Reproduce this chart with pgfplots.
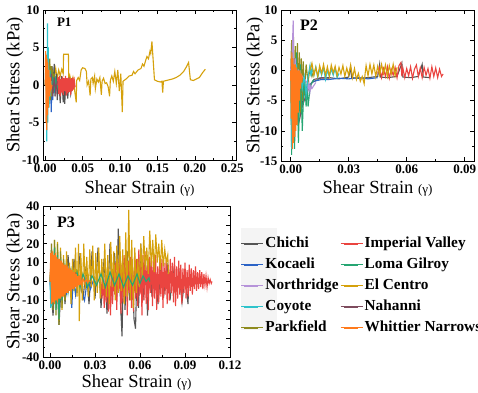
\documentclass[border=0pt]{standalone}
\usepackage{pgfplots}
\pgfplotsset{compat=1.18}
\usepackage{fontspec}
\setmainfont{Liberation Serif}
\definecolor{cChichi}{HTML}{555555}
\definecolor{cKoc}{HTML}{2B63C6}
\definecolor{cNorth}{HTML}{B693D9}
\definecolor{cCoy}{HTML}{2EC3CB}
\definecolor{cPark}{HTML}{8E8B1E}
\definecolor{cImp}{HTML}{EA4440}
\definecolor{cLoma}{HTML}{26A673}
\definecolor{cElC}{HTML}{D5A10C}
\definecolor{cNah}{HTML}{7E4C5E}
\definecolor{cWhit}{HTML}{FF7A1C}
\pgfplotsset{
  panel/.style={
    scale only axis, anchor=south west,
    axis line style={line width=0.8pt},
    tick style={black, line width=0.6pt},
    major tick length=4pt, minor tick length=2pt, tick align=inside,
    minor tick num=1,
    scaled x ticks=false, scaled y ticks=false,
    /pgf/number format/assume math mode=true,
    tick label style={font=\fontsize{13}{13}\selectfont\bfseries},
    xticklabel style={/pgf/number format/fixed, /pgf/number format/fixed zerofill, /pgf/number format/precision=2},
    label style={font=\fontsize{18.5}{20}\selectfont},
    ylabel={Shear Stress (kPa)},
    xlabel={Shear Strain {\fontsize{13}{13}\selectfont(γ)}},
    every axis plot/.append style={line width=1.1pt, forget plot},
    clip=true,
  }
}
\begin{document}
\begin{tikzpicture}
\path[use as bounding box] (0,0) rectangle (478pt,392pt);
\fill[gray!9] (241pt,62pt) rectangle (277pt,164pt);
%================ P1 ================
\begin{axis}[panel, at={(43pt,232pt)}, width=193pt, height=150pt,
  xmin=-0.003, xmax=0.255, ymin=-10, ymax=10,
  xtick={0,0.05,0.1,0.15,0.2,0.25}, ytick={-10,-5,0,5,10},
  ylabel style={at={(axis description cs:-0.145,0.5)}, anchor=center},
  xlabel style={at={(axis description cs:0.5,-0.187)}, anchor=center}]
\addplot[cElC] coordinates {(0,0) (0.002,3.5) (0.004,-2) (0.006,2.8) (0.008,0.5) (0.010,2.0) (0.012,1.0) (0.014,2.2) (0.016,0.8) (0.018,2.0) (0.020,1.2) (0.022,2.1) (0.024,1.5) (0.0245,4.1) (0.031,4.1) (0.0315,0.6) (0.033,1.2) (0.035,0.2) (0.037,1.0) (0.039,-0.5) (0.0414,-2.3) (0.042,0.6) (0.044,1.0) (0.046,0.6) (0.048,2.0) (0.050,2.3) (0.053,2.2) (0.055,1.8) (0.056,0) (0.058,0.5) (0.060,-1.4) (0.061,0.8) (0.063,1.0) (0.064,0.2) (0.066,1.2) (0.067,-0.5) (0.069,0.8) (0.071,0.4) (0.073,1.0) (0.075,-1.3) (0.076,0.5) (0.078,0.9) (0.080,0.2) (0.082,0.3) (0.084,-0.2) (0.086,-1.5) (0.087,0.6) (0.089,1.2) (0.091,0.5) (0.093,1.8) (0.095,0.2) (0.097,2.0) (0.099,-0.8) (0.101,1.5) (0.103,-3.6) (0.104,0.5) (0.108,0.8) (0.112,1.2) (0.116,1.3) (0.118,1.8) (0.120,1.5) (0.124,2.0) (0.128,2.2) (0.130,2.8) (0.132,2.5) (0.134,3.2) (0.136,3.8) (0.138,3.5) (0.140,4.5) (0.141,4.2) (0.1426,5.8) (0.146,0.7) (0.150,0.5) (0.154,0.4) (0.156,0.5) (0.157,-1.0) (0.158,0.5) (0.162,0.6) (0.166,0.7) (0.170,0.8) (0.175,1.0) (0.180,1.3) (0.185,1.8) (0.188,2.3) (0.1916,3.0) (0.194,0.7) (0.198,0.6) (0.202,0.8) (0.206,1.0) (0.210,1.6) (0.214,2.1)};
\addplot[cChichi] coordinates {(0.008,0) (0.009,2.5) (0.010,-1) (0.012,2.8) (0.013,-1.5) (0.015,1.5) (0.016,-2) (0.018,1) (0.020,-2.4) (0.022,1.2) (0.024,-2.3) (0.025,0.5) (0.026,-2.5) (0.028,0.8) (0.030,-1.8) (0.032,0.5) (0.034,-1.2) (0.036,0.3)};
\addplot[cKoc] coordinates {(0.004,0) (0.006,-2) (0.007,1) (0.008,-3.6) (0.009,0.5) (0.010,-2) (0.011,1) (0.012,-1) (0.013,0)};
\addplot[cNorth] coordinates {(0,0) (0.001,2) (0.002,-2) (0.003,1) (0.004,0)};
\addplot[cPark] coordinates {(0,0) (0.002,3.5) (0.003,-3) (0.004,3) (0.005,-2.5) (0.006,3.5) (0.007,-2) (0.008,2.5) (0.009,-1.5) (0.010,2) (0.011,-1) (0.012,1.5) (0.013,0)};
\addplot[cLoma] coordinates {(0.004,0) (0.005,1.5) (0.006,-1) (0.007,1.8) (0.008,-0.8) (0.009,1.2) (0.010,-0.5) (0.011,1) (0.012,-0.5) (0.014,0.8) (0.016,-0.3) (0.018,0.5)};
\addplot[cImp] coordinates {(0.016,0) (0.017,1) (0.018,-1.2) (0.019,1.2) (0.020,-1.5) (0.021,0.8) (0.022,-1.0) (0.023,1.1) (0.024,-1.3) (0.025,0.9) (0.026,-0.8) (0.027,1.2) (0.028,-1.4) (0.029,0.9) (0.030,-1.1) (0.031,1.0) (0.032,-0.9) (0.033,0.8) (0.034,-1.3) (0.035,0.9) (0.036,-0.8) (0.037,1.0) (0.038,-0.6) (0.039,0.5) (0.040,-0.3)};
\addplot[cNah] coordinates {(0.006,0) (0.008,1.5) (0.010,-1.5) (0.012,1) (0.014,-1) (0.016,0.5)};
\addplot[cCoy] coordinates {(0,0) (0.001,4) (0.002,-7.5) (0.003,8.2) (0.0035,-5) (0.004,5) (0.005,-3) (0.006,2) (0.007,-1.5) (0.008,0.5)};
\addplot[cWhit] coordinates {(0,0) (0.0005,4.5) (0.001,-5) (0.0015,4) (0.002,-6) (0.0025,3.5) (0.003,-4) (0.0035,3) (0.004,-3) (0.005,2) (0.006,-1.5) (0.007,1) (0.008,-0.5) (0.009,0)};
\node[font=\fontsize{13}{13}\selectfont\bfseries] at (rel axis cs:0.11,0.92) {P1};
\end{axis}
%================ P2 ================
\begin{axis}[panel, at={(281pt,231pt)}, width=193pt, height=151pt,
  xmin=-0.005, xmax=0.0948, ymin=-15, ymax=10,
  xtick={0,0.03,0.06,0.09}, ytick={-15,-10,-5,0,5,10},
  ylabel style={at={(axis description cs:-0.135,0.5)}, anchor=center},
  xlabel style={at={(axis description cs:0.5,-0.18)}, anchor=center}]
\addplot[cChichi] coordinates {(0,0) (0.001,-5) (0.002,2) (0.003,-9) (0.004,-1) (0.005,-7) (0.007,-4) (0.009,-3) (0.011,-2) (0.013,-1.7) (0.015,-1.3) (0.020,-1.2) (0.025,-1.4) (0.030,-1.1) (0.031,0.5) (0.0315,-1.2) (0.035,-1.3) (0.040,-1.2) (0.045,-1.0) (0.046,1.0) (0.0465,-1.1) (0.050,-1.2) (0.055,-1.0) (0.0575,1.2) (0.058,-1.1) (0.062,-1.2) (0.066,-1) (0.068,1.0) (0.0685,-1.1) (0.072,-1.2)};
\addplot[cKoc] coordinates {(0.004,-6) (0.006,-4) (0.009,-2.5) (0.012,-1.8) (0.016,-1.5) (0.020,-1.5) (0.025,-1.3) (0.030,-1.4) (0.035,-1.2) (0.040,-1.4) (0.045,-1.2)};
\addplot[cNah] coordinates {(0,0) (0.002,-4) (0.004,-9) (0.006,-6) (0.008,-4) (0.010,-2.5) (0.012,-1.5) (0.016,-1.2) (0.020,-1.3)};
\addplot[cPark] coordinates {(0,0) (0.0005,5) (0.001,-10) (0.0015,5.5) (0.002,-11) (0.0025,4) (0.003,-9) (0.0035,4.5) (0.004,-8) (0.0045,3) (0.005,-7) (0.0055,2) (0.006,-5) (0.0065,1.5) (0.007,-4) (0.008,1) (0.009,-2) (0.010,0.5) (0.011,-1) (0.012,0)};
\addplot[cLoma] coordinates {(0,0) (0.0005,-14) (0.001,2) (0.002,-13) (0.003,3) (0.004,-12) (0.005,1) (0.006,-10) (0.007,-1) (0.008,-6) (0.0085,-2) (0.009,-6) (0.010,-3) (0.011,-2) (0.012,-1.5)};
\addplot[cNorth] coordinates {(0,0) (0.0008,3) (0.0013,8.3) (0.0018,-4) (0.0025,2) (0.003,-3) (0.004,0) (0.006,-1) (0.0085,-2) (0.009,-3.2) (0.0095,-2.2) (0.010,-3.5) (0.0105,-2.5) (0.011,-3) (0.012,-2.5) (0.013,-2)};
\addplot[cCoy] coordinates {(0,0) (0.0005,-13) (0.001,2) (0.002,-8) (0.003,1) (0.004,-5) (0.005,0) (0.006,-3) (0.007,-1) (0.008,-4) (0.009,-1) (0.010,0.8) (0.0105,-1) (0.011,0.5) (0.012,-0.8) (0.013,0.6) (0.014,-1.2) (0.015,0.3) (0.016,-0.8) (0.017,0.5) (0.018,-1.5) (0.019,0) (0.020,-1) (0.021,0.2) (0.022,-0.8) (0.023,0.3) (0.024,-1.2) (0.025,-0.5)};
\addplot[cImp] coordinates {(0.045,-0.5) (0.046,0.5) (0.047,-1.2) (0.048,0.3) (0.049,-1.0) (0.050,0.6) (0.051,-1.3) (0.052,0.2) (0.053,-0.8) (0.054,0.5) (0.055,-1.2) (0.056,0.8) (0.057,1.3) (0.0575,-1.0) (0.058,0.4) (0.059,-1.2) (0.060,0.3) (0.061,-0.9) (0.062,0.6) (0.063,-1.3) (0.064,0.2) (0.065,0.9) (0.066,-1.0) (0.067,0.4) (0.068,-1.2) (0.069,0.5) (0.070,-0.8) (0.071,0.3) (0.072,-1.3) (0.073,0.6) (0.074,-1.0) (0.075,0.4) (0.076,-1.2) (0.077,0.2) (0.078,-1.0) (0.0788,-0.6)};
\addplot[cElC] coordinates {(0.010,0) (0.011,1.2) (0.012,-0.8) (0.013,0.5) (0.014,-1.0) (0.015,0.8) (0.016,-0.5) (0.017,1.0) (0.018,-0.8) (0.019,0.6) (0.020,-1.0) (0.021,0.9) (0.022,-0.4) (0.023,0.7) (0.024,-0.9) (0.025,0.5) (0.026,-0.6) (0.027,0.8) (0.028,-1.0) (0.029,0.4) (0.030,-0.8) (0.031,0.9) (0.032,-1.2) (0.033,0.3) (0.034,-1.5) (0.035,-0.5) (0.036,-1.8) (0.037,-1.0) (0.038,-2.2) (0.0385,-0.5) (0.039,0.8) (0.040,-0.9) (0.041,1.0) (0.042,-0.6) (0.043,0.9) (0.044,-1.0) (0.045,0.7) (0.046,-0.8) (0.047,1.0) (0.048,-0.5) (0.049,0.9) (0.050,-1.0) (0.051,0.8) (0.052,-0.6) (0.053,1.0) (0.054,-0.9) (0.055,0.5)};
\addplot[cWhit] coordinates {(0,0) (0.0003,-8) (0.0006,3) (0.0009,-13) (0.0012,2) (0.0015,-12) (0.0018,1) (0.0021,-11) (0.0024,1) (0.0027,-10) (0.003,0.5) (0.0033,-9) (0.0036,0) (0.0039,-7) (0.0042,0) (0.0045,-5) (0.0048,0) (0.0051,-3) (0.0054,-0.5) (0.0057,-2) (0.006,-1)};
\node[font=\fontsize{16}{16}\selectfont\bfseries] at (rel axis cs:0.145,0.90) {P2};
\end{axis}
%================ P3 ================
\begin{axis}[panel, at={(43pt,35pt)}, width=187pt, height=151pt,
  xmin=-0.0047, xmax=0.12, ymin=-40, ymax=40,
  xtick={0,0.03,0.06,0.09,0.12}, ytick={-40,-30,-20,-10,0,10,20,30,40},
  ylabel style={at={(axis description cs:-0.15,0.5)}, anchor=center},
  xlabel style={at={(axis description cs:0.5,-0.17)}, anchor=center},
  legend columns=2,
  legend style={at={(axis description cs:1.057,0.805)}, anchor=north west, draw=none, fill=none,
    font=\fontsize{15.3}{16}\selectfont\bfseries, inner sep=0pt,
    nodes={inner sep=1.5pt, text height=10.5pt, text depth=3pt}, row sep=4.5pt,
    /tikz/every even column/.append style={column sep=0pt}},
  legend cell align=left,
  legend image code/.code={\draw[#1, line width=1.8pt] (3pt,0pt) -- (17pt,0pt); \path (0pt,0pt) -- (22pt,0pt);}]
\addplot[cChichi] coordinates {(0,0) (0.002,-18) (0.004,10) (0.006,-23) (0.008,8) (0.010,-12) (0.012,14) (0.014,-8) (0.016,12) (0.018,-6) (0.020,15) (0.022,-10) (0.024,8) (0.026,-12) (0.028,16) (0.030,-9) (0.032,18) (0.034,-14) (0.036,12) (0.038,-17) (0.040,20) (0.0415,-10) (0.043,15) (0.0445,-8) (0.0455,28) (0.047,-12) (0.048,-29) (0.049,10) (0.050,-15) (0.0515,16) (0.053,-10) (0.0545,12) (0.056,-20) (0.057,-25) (0.058,8) (0.059,-14) (0.0605,20) (0.062,-10) (0.0635,14) (0.065,-18) (0.0665,10) (0.068,-8) (0.070,6) (0.072,-12) (0.074,8) (0.076,-6) (0.078,10) (0.080,-10) (0.082,6) (0.084,-4) (0.086,5) (0.088,-11) (0.090,3) (0.092,-12) (0.0925,0)};
\addplot[cKoc] coordinates {(0,0) (0.001,-12) (0.002,8) (0.003,-10) (0.005,6) (0.007,-8) (0.009,5) (0.011,-6) (0.013,4) (0.0145,-14) (0.0155,3) (0.017,-7) (0.019,4) (0.021,-5) (0.023,-10) (0.025,2) (0.027,-4) (0.029,1) (0.030,0)};
\addplot[cNorth] coordinates {(0,0) (0.001,20) (0.002,-10) (0.003,15) (0.004,-6) (0.005,5) (0.006,0)};
\addplot[cCoy] coordinates {(0,0) (0.0005,-14) (0.001,10) (0.0015,-13) (0.002,8) (0.003,-6) (0.004,4) (0.005,0)};
\addplot[cImp] coordinates {(0.0340,0) (0.0347,-9) (0.0354,4) (0.0361,-14) (0.0368,2) (0.0375,-11) (0.0382,6) (0.0389,-16) (0.0396,3) (0.0403,-18) (0.0410,5) (0.0417,-12) (0.0424,8) (0.0431,-7) (0.0438,10) (0.0445,-15) (0.0452,12) (0.0459,-5) (0.0466,15) (0.0473,-17) (0.0480,9) (0.0487,-11) (0.0494,14) (0.0501,-8) (0.0508,16) (0.0515,-18) (0.0522,11) (0.0529,-6) (0.0536,13) (0.0543,-14) (0.0550,7) (0.0557,-16) (0.0564,15) (0.0571,-9) (0.0578,12) (0.0585,-13) (0.0592,17) (0.0599,-7) (0.0606,10) (0.0613,-18) (0.0620,14) (0.0627,-10) (0.0634,16) (0.0641,-12) (0.0648,9) (0.0655,-15) (0.0662,13) (0.0669,-6) (0.0676,15) (0.0683,-13) (0.0690,11) (0.0697,-9) (0.0704,14) (0.0711,-15) (0.0718,8) (0.0725,-11) (0.0732,13) (0.0739,-8) (0.0746,12) (0.0753,-14) (0.0760,10) (0.0767,-7) (0.0774,11) (0.0781,-12) (0.0788,9) (0.0795,-10) (0.0802,12) (0.0809,-6) (0.0816,10) (0.0823,-11) (0.0830,13) (0.0837,-13) (0.0844,8) (0.0851,-9) (0.0858,11) (0.0865,-7) (0.0872,9) (0.0879,-12) (0.0886,7) (0.0893,-6) (0.0900,10) (0.0907,-9) (0.0914,6) (0.0921,-8) (0.0928,9) (0.0935,-5) (0.0942,7) (0.0949,-7) (0.0956,6) (0.0963,-4) (0.0970,8) (0.0977,-5) (0.0984,5) (0.0991,-4) (0.0998,6) (0.1005,-3) (0.1012,5) (0.1019,-4) (0.1026,4) (0.1033,-2) (0.1040,3) (0.1047,-3) (0.1054,2) (0.1061,-1) (0.1068,1) (0.1075,-1) (0.1080,0)};
\addplot[cElC] coordinates {(0,0) (0.001,12) (0.002,-8) (0.003,22) (0.004,-12) (0.005,21) (0.006,-21) (0.007,18) (0.008,-15) (0.009,14) (0.010,-10) (0.011,16) (0.012,-6) (0.013,10) (0.014,-12) (0.015,12) (0.016,-5) (0.017,18) (0.018,-8) (0.019,20) (0.0195,-21) (0.0205,15) (0.0215,-10) (0.0225,20) (0.0235,-4) (0.0245,13) (0.0255,-8) (0.0265,17) (0.0275,-3) (0.0285,19) (0.0295,-10) (0.0305,15) (0.0315,-6) (0.0325,18) (0.0335,-9) (0.0345,12) (0.0355,-4) (0.0365,20) (0.0375,-8) (0.0385,14) (0.0395,-12) (0.0405,21) (0.0415,-3) (0.0425,16) (0.0435,-10) (0.0445,19) (0.0455,-6) (0.0465,24) (0.0475,-5) (0.0485,17) (0.0495,-12) (0.0505,26) (0.0515,-8) (0.0525,38) (0.0535,-10) (0.0545,22) (0.0555,-14) (0.0565,18) (0.0575,-6) (0.0585,12) (0.0595,-3) (0.0605,20) (0.0615,2) (0.0625,24) (0.0635,6) (0.0645,18) (0.0655,4) (0.0665,27) (0.0675,8) (0.0685,22) (0.0695,5) (0.0705,25) (0.0715,10) (0.0725,20) (0.0735,6) (0.0745,22) (0.0755,8) (0.0765,17) (0.0775,10) (0.0785,14) (0.079,4)};
\addplot[cPark] coordinates {(0,0) (0.001,20) (0.002,-15) (0.003,22) (0.004,-18) (0.005,20) (0.006,-23) (0.007,16) (0.008,-14) (0.009,12) (0.010,-10) (0.011,8) (0.012,0)};
\addplot[cLoma] coordinates {(0,0) (0.001,15) (0.002,-12) (0.003,18) (0.004,-15) (0.005,14) (0.006,-20) (0.007,12) (0.008,-10) (0.010,8) (0.012,-6) (0.014,6) (0.016,-4) (0.018,5) (0.020,-3) (0.022,4) (0.025,-3) (0.028,3) (0.031,-2) (0.034,4) (0.037,-3) (0.040,5) (0.043,-2) (0.046,4) (0.049,-3) (0.052,3) (0.055,-2) (0.058,4) (0.060,-1) (0.062,3) (0.064,0) (0.066,2) (0.0665,0)};
\addplot[cNah] coordinates {(0,0) (0.002,6) (0.004,-5) (0.006,4) (0.008,-3) (0.010,0)};
\addplot[cWhit] coordinates {(0,0) (0.0005,15) (0.001,-12) (0.0015,16) (0.002,-11) (0.0025,14) (0.003,-12) (0.0035,15) (0.004,-10) (0.0045,13) (0.005,-11) (0.0055,12) (0.006,-9) (0.0065,12) (0.007,-9) (0.0075,11) (0.008,-8) (0.0085,10) (0.009,-8) (0.0095,9) (0.010,-7) (0.0105,9) (0.011,-6) (0.0115,8) (0.012,-6) (0.0125,7) (0.013,-5) (0.0135,7) (0.014,-5) (0.0145,6) (0.015,-4) (0.0155,5) (0.016,-4) (0.0165,5) (0.017,-3) (0.0175,4) (0.018,-3) (0.0185,3) (0.019,-2) (0.0195,3) (0.020,-2) (0.0205,2) (0.021,-1.5) (0.022,1.5) (0.023,-1) (0.024,1) (0.025,-0.5) (0.026,0.5) (0.027,0)};
\node[font=\fontsize{16}{16}\selectfont\bfseries] at (rel axis cs:0.123,0.894) {P3};
\addlegendimage{cChichi}\addlegendentry{Chichi}
\addlegendimage{cImp}\addlegendentry{Imperial Valley}
\addlegendimage{cKoc}\addlegendentry{Kocaeli}
\addlegendimage{cLoma}\addlegendentry{Loma Gilroy}
\addlegendimage{cNorth}\addlegendentry{Northridge}
\addlegendimage{cElC}\addlegendentry{El Centro}
\addlegendimage{cCoy}\addlegendentry{Coyote}
\addlegendimage{cNah}\addlegendentry{Nahanni}
\addlegendimage{cPark}\addlegendentry{Parkfield}
\addlegendimage{cWhit}\addlegendentry{Whittier Narrows}
\end{axis}
\end{tikzpicture}
\end{document}
